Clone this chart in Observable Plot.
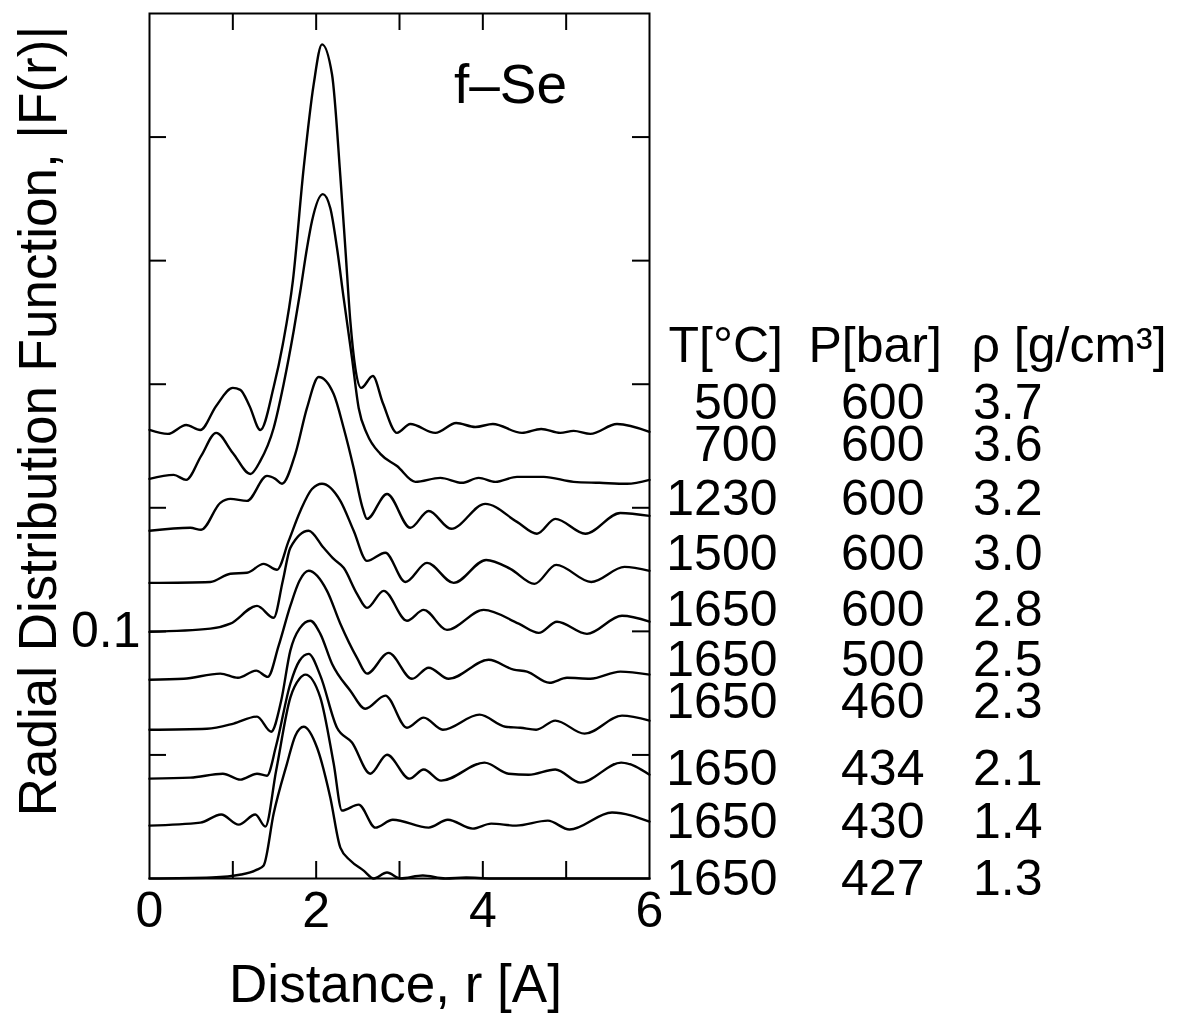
<!DOCTYPE html>
<html>
<head>
<meta charset="utf-8">
<script src="https://cdn.jsdelivr.net/npm/d3@7"></script>
<script src="https://cdn.jsdelivr.net/npm/@observablehq/plot@0.6"></script>
<style>
  html, body { margin: 0; padding: 0; background: #fff; }
  #chart svg { display: block; }
</style>
</head>
<body>
<div id="chart"></div>
<script>
// ---- Data: radial distribution functions |F(r)| of fluid Se (curves shifted vertically) ----
// Legend rows (top to bottom)
const temperatures = ["500", "700", "1230", "1500", "1650", "1650", "1650", "1650", "1650", "1650"];
const pressures    = ["600", "600", "600", "600", "600", "500", "460", "434", "430", "427"];
const densities    = ["3.7", "3.6", "3.2", "3.0", "2.8", "2.5", "2.3", "2.1", "1.4", "1.3"];

// Curve 1: 500 C, 600 bar
const r1 = [0, 0.22, 0.44, 0.61, 0.80, 1.00, 1.09, 1.20, 1.33, 1.49, 1.60, 1.72, 1.85, 1.97, 2.07, 2.19, 2.29, 2.35, 2.41, 2.47, 2.54, 2.68, 2.80, 2.97, 3.13, 3.43, 3.68, 3.91, 4.12, 4.47, 4.70, 4.93, 5.09, 5.29, 5.61, 6.00];
const f1 = [0.1815, 0.1799, 0.1835, 0.1815, 0.1912, 0.1985, 0.1977, 0.1912, 0.1815, 0.1989, 0.2162, 0.2417, 0.2874, 0.3213, 0.3375, 0.3254, 0.2842, 0.2551, 0.2255, 0.2065, 0.1985, 0.2033, 0.1924, 0.1803, 0.1839, 0.1803, 0.1843, 0.1827, 0.1839, 0.1803, 0.1819, 0.1803, 0.1811, 0.1799, 0.1839, 0.1807];
// Curve 2: 700 C, 600 bar
const r2 = [0, 0.29, 0.44, 0.62, 0.80, 1.00, 1.21, 1.33, 1.49, 1.61, 1.73, 1.81, 1.89, 1.95, 2.08, 2.17, 2.25, 2.33, 2.43, 2.51, 2.61, 2.77, 2.97, 3.19, 3.49, 3.75, 3.95, 4.15, 4.41, 4.73, 5.09, 5.40, 5.73, 6.00];
const f2 = [0.1617, 0.1633, 0.1613, 0.1710, 0.1803, 0.1722, 0.1637, 0.1690, 0.1823, 0.2001, 0.2215, 0.2377, 0.2551, 0.2660, 0.2769, 0.2712, 0.2551, 0.2348, 0.2106, 0.1904, 0.1799, 0.1718, 0.1669, 0.1605, 0.1621, 0.1601, 0.1621, 0.1605, 0.1625, 0.1625, 0.1605, 0.1601, 0.1597, 0.1613];
// Curve 3: 1230 C, 600 bar
const r3 = [0, 0.49, 0.62, 0.85, 0.97, 1.17, 1.41, 1.51, 1.59, 1.75, 1.89, 2.03, 2.21, 2.33, 2.45, 2.55, 2.61, 2.85, 3.13, 3.35, 3.62, 4.03, 4.41, 4.65, 4.87, 5.23, 5.65, 6.00];
const f3 = [0.1407, 0.1419, 0.1411, 0.1520, 0.1536, 0.1528, 0.1629, 0.1617, 0.1597, 0.1718, 0.1904, 0.2029, 0.1960, 0.1823, 0.1661, 0.1508, 0.1455, 0.1556, 0.1419, 0.1487, 0.1415, 0.1516, 0.1443, 0.1395, 0.1455, 0.1395, 0.1479, 0.1467];
// Curve 4: 1500 C, 600 bar
const r4 = [0, 0.73, 0.97, 1.17, 1.37, 1.53, 1.67, 1.81, 1.95, 2.07, 2.29, 2.45, 2.61, 2.83, 3.07, 3.33, 3.65, 4.04, 4.33, 4.62, 4.88, 5.30, 5.70, 6.00];
const f4 = [0.1196, 0.1200, 0.1233, 0.1237, 0.1273, 0.1249, 0.1366, 0.1487, 0.1576, 0.1597, 0.1528, 0.1407, 0.1285, 0.1318, 0.1200, 0.1277, 0.1196, 0.1289, 0.1253, 0.1192, 0.1269, 0.1200, 0.1261, 0.1245];
// Curve 5: 1650 C, 600 bar
const r5 = [0, 0.73, 0.97, 1.29, 1.49, 1.60, 1.69, 1.91, 2.09, 2.21, 2.33, 2.49, 2.61, 2.81, 3.09, 3.29, 3.57, 4.01, 4.43, 4.67, 4.89, 5.25, 5.67, 6.00];
const f5 = [0.0998, 0.1011, 0.1031, 0.1103, 0.1055, 0.1205, 0.1338, 0.1407, 0.1338, 0.1293, 0.1257, 0.1152, 0.1095, 0.1164, 0.1043, 0.1087, 0.1006, 0.1087, 0.1031, 0.0994, 0.1039, 0.0990, 0.1063, 0.1039];
// Curve 6: 1650 C, 500 bar
const r6 = [0, 0.41, 0.85, 1.06, 1.28, 1.42, 1.55, 1.69, 1.80, 1.91, 2.13, 2.29, 2.49, 2.61, 2.87, 3.15, 3.35, 3.59, 4.07, 4.37, 4.53, 4.80, 5.01, 5.29, 5.65, 6.00];
const f6 = [0.0804, 0.0808, 0.0829, 0.0812, 0.0841, 0.0816, 0.0942, 0.1103, 0.1205, 0.1245, 0.1164, 0.1031, 0.0893, 0.0829, 0.0913, 0.0808, 0.0853, 0.0808, 0.0885, 0.0845, 0.0837, 0.0792, 0.0812, 0.0808, 0.0837, 0.0825];
// Curve 7: 1650 C, 460 bar
const r7 = [0, 0.69, 1.01, 1.29, 1.46, 1.58, 1.69, 1.80, 1.93, 2.05, 2.19, 2.41, 2.59, 2.83, 3.09, 3.29, 3.52, 3.96, 4.27, 4.45, 4.64, 4.87, 5.22, 5.67, 6.00];
const f7 = [0.0602, 0.0606, 0.0627, 0.0655, 0.0594, 0.0719, 0.0922, 0.1011, 0.1043, 0.0990, 0.0869, 0.0760, 0.0687, 0.0740, 0.0610, 0.0651, 0.0602, 0.0663, 0.0614, 0.0610, 0.0602, 0.0639, 0.0586, 0.0659, 0.0639];
// Curve 8: 1650 C, 434 bar
const r8 = [0, 0.49, 0.88, 1.09, 1.29, 1.41, 1.52, 1.69, 1.80, 1.91, 2.05, 2.25, 2.43, 2.65, 2.85, 3.12, 3.29, 3.50, 4.02, 4.31, 4.55, 4.87, 5.17, 5.66, 6.00];
const f8 = [0.0404, 0.0408, 0.0424, 0.0400, 0.0424, 0.0416, 0.0538, 0.0788, 0.0881, 0.0909, 0.0821, 0.0610, 0.0550, 0.0424, 0.0501, 0.0404, 0.0441, 0.0396, 0.0469, 0.0424, 0.0420, 0.0441, 0.0388, 0.0469, 0.0420];
// Curve 9: 1650 C, 430 bar
const r9 = [0, 0.61, 0.86, 1.07, 1.27, 1.39, 1.52, 1.69, 1.80, 1.87, 2.05, 2.21, 2.31, 2.51, 2.71, 2.92, 3.35, 3.58, 3.88, 4.10, 4.40, 4.78, 5.04, 5.55, 6.00];
const f9 = [0.0214, 0.0226, 0.0259, 0.0218, 0.0259, 0.0210, 0.0437, 0.0732, 0.0808, 0.0825, 0.0732, 0.0465, 0.0275, 0.0299, 0.0206, 0.0238, 0.0206, 0.0238, 0.0202, 0.0222, 0.0214, 0.0234, 0.0198, 0.0267, 0.0230];
// Curve 10: 1650 C, 427 bar
const r10 = [0, 0.75, 1.10, 1.29, 1.37, 1.49, 1.65, 1.75, 1.85, 2.01, 2.17, 2.29, 2.41, 2.57, 2.69, 2.85, 3.01, 3.28, 3.55, 3.80, 4.10, 6.00];
const f10 = [0.0000, 0.0004, 0.0016, 0.0036, 0.0053, 0.0263, 0.0465, 0.0578, 0.0614, 0.0530, 0.0327, 0.0125, 0.0073, 0.0032, 0.0000, 0.0024, 0.0000, 0.0012, 0.0000, 0.0004, 0.0000, 0.0000];

// Axis tick values and labels
const xTicks = [1, 2, 3, 4, 5];
const yTicks = [0.05, 0.1, 0.15, 0.2, 0.25, 0.3];
const xTickLabels = [0, 2, 4, 6];
const yTickLabels = [0.1];

// ---- Build table ----
const rs = [r1, r2, r3, r4, r5, r6, r7, r8, r9, r10];
const fs = [f1, f2, f3, f4, f5, f6, f7, f8, f9, f10];
const rows = [];
rs.forEach((r, k) => r.forEach((v, i) => rows.push({series: k, r: v, F: fs[k][i]})));

// ---- Layout (pixels) ----
const FONT = "'Liberation Sans', Arial, Helvetica, sans-serif";
const FS = 50;
const tickLen = 17;
const marginTop = 13, marginLeft = 149, marginBottom = 139, marginRight = 547;
const frameW = 500, frameH = 865;
const legendHeaderY = 345;
const legendRowY = [402, 444, 498, 553, 609, 659, 701, 768, 821, 878]; // px from top of svg

const T = (opts) => Object.assign({lineAnchor: "middle", fontSize: FS}, opts);

const legendMarks = [];
legendRowY.forEach((cy, i) => {
  legendMarks.push(Plot.text([temperatures[i]], T({frameAnchor: "top-right", dx: 128, dy: cy - marginTop, textAnchor: "end"})));
  legendMarks.push(Plot.text([pressures[i]],    T({frameAnchor: "top-right", dx: 275, dy: cy - marginTop, textAnchor: "end"})));
  legendMarks.push(Plot.text([densities[i]],    T({frameAnchor: "top-right", dx: 393, dy: cy - marginTop, textAnchor: "end"})));
});

const chart = Plot.plot({
  width: 1196,
  height: 1017,
  marginLeft, marginRight, marginTop, marginBottom,
  style: {fontFamily: FONT, background: "#fff", color: "#000", overflow: "visible"},
  x: {domain: [0, 6], axis: null},
  y: {domain: [0, 0.35], axis: null},
  marks: [
    // inward ticks on all four sides
    Plot.tickX(xTicks, {x: d => d, stroke: "#000", strokeWidth: 2, insetTop: frameH - tickLen}),
    Plot.tickX(xTicks, {x: d => d, stroke: "#000", strokeWidth: 2, insetBottom: frameH - tickLen}),
    Plot.tickY(yTicks, {y: d => d, stroke: "#000", strokeWidth: 2, insetRight: frameW - tickLen}),
    Plot.tickY(yTicks, {y: d => d, stroke: "#000", strokeWidth: 2, insetLeft: frameW - tickLen}),
    Plot.frame({stroke: "#000", strokeWidth: 2}),
    // curves
    Plot.line(rows, {x: "r", y: "F", z: "series", curve: "monotone-x", stroke: "#000", strokeWidth: 2.4, strokeLinejoin: "round"}),
    // tick labels
    Plot.text(xTickLabels, T({x: d => d, frameAnchor: "bottom", dy: 32, text: d => String(d)})),
    Plot.text(yTickLabels, T({y: d => d, frameAnchor: "left", textAnchor: "end", dx: -9, text: d => String(d)})),
    // axis titles
    Plot.text(["Distance, r [A]"], T({frameAnchor: "bottom", textAnchor: "middle", dx: -4, dy: 107, fontSize: 53})),
    Plot.text(["Radial Distribution Function, |F(r)|"], T({frameAnchor: "left", textAnchor: "middle", rotate: -90, dx: -110, dy: -25, fontSize: 53})),
    // panel label
    Plot.text(["f\u2013Se"], T({frameAnchor: "top-right", textAnchor: "middle", dx: -139, dy: 72, fontSize: 55})),
    // legend header
    Plot.text(["T[\u00B0C]"], T({frameAnchor: "top-right", dx: 19, dy: legendHeaderY - marginTop, textAnchor: "start"})),
    Plot.text(["P[bar]"], T({frameAnchor: "top-right", dx: 159, dy: legendHeaderY - marginTop, textAnchor: "start"})),
    Plot.text(["\u03C1 [g/cm\u00B3]"], T({frameAnchor: "top-right", dx: 322, dy: legendHeaderY - marginTop, textAnchor: "start"})),
    ...legendMarks
  ]
});

document.getElementById("chart").appendChild(chart);
</script>
</body>
</html>
